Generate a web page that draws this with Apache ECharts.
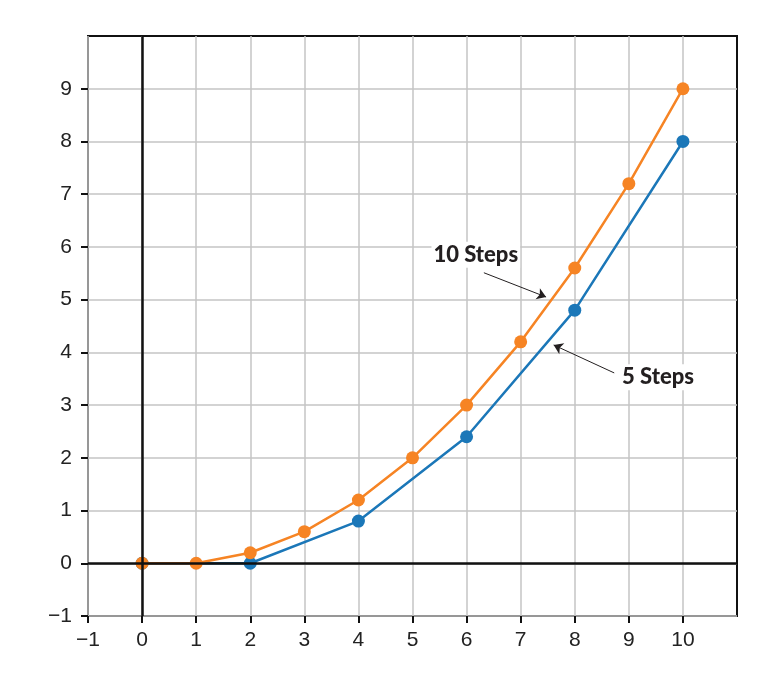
<!DOCTYPE html>
<html>
<head>
<meta charset="utf-8">
<script src="https://cdn.jsdelivr.net/npm/echarts@6/dist/echarts.min.js"></script>
<style>
  html, body { margin: 0; padding: 0; background: #fff; }
  #main { width: 781px; height: 673px; }
</style>
</head>
<body>
<div id="main"></div>
<script>
// data
const tenSteps = [[0, 0], [1, 0], [2, 0.2], [3, 0.6], [4, 1.2], [5, 2], [6, 3], [7, 4.2], [8, 5.6], [9, 7.2], [10, 9]];
const fiveSteps = [[0, 0], [2, 0], [4, 0.8], [6, 2.4], [8, 4.8], [10, 8]];
const xTicks = [-1, 0, 1, 2, 3, 4, 5, 6, 7, 8, 9, 10];
const yTicks = [-1, 0, 1, 2, 3, 4, 5, 6, 7, 8, 9];

// annotation positions in data units
const labelTen = [6.17, 5.85];
const labelFive = [9.54, 3.53];
const arrowTen = [[6.32, 5.51], [7.47, 5.05]];
const arrowFive = [[8.73, 3.61], [7.61, 4.14]];

const orange = '#F68424';
const blue = '#1B77B8';
const ink = '#231f20';

let myChart = echarts.init(document.getElementById('main'));

const fmt = (v) => (v < 0 ? '\u2212' + Math.abs(v) : String(v));

const labelStyle = {
  show: true,
  color: ink,
  fontFamily: 'Lato',
  fontWeight: 900,
  fontSize: 22,
  backgroundColor: '#fff',
  padding: [2, 2]
};

// one dummy series per annotation arrow, so each can have its own bend
function arrow(pts, bend) {
  return {
    type: 'line', data: [], z: 5,
    markLine: {
      silent: true, symbol: ['none', 'arrow'], symbolSize: 9,
      label: { show: false },
      lineStyle: { color: ink, width: 1, type: 'solid', curveness: bend },
      data: [[{ coord: pts[0] }, { coord: pts[1] }]]
    }
  };
}

let options = {
  animation: false,
  grid: {
    left: 88, right: 44, top: 36, bottom: 57,
    show: true, borderColor: '#111', borderWidth: 2
  },
  xAxis: {
    type: 'value', min: -1, max: 11, interval: 1,
    axisLine: { show: false, onZero: false },
    axisTick: { show: true, customValues: xTicks, length: 7, lineStyle: { color: '#111', width: 2 } },
    axisLabel: { customValues: xTicks, formatter: fmt, color: '#222', fontSize: 21, fontFamily: 'Liberation Sans', margin: 14 },
    splitLine: { lineStyle: { color: '#c4c4c4', width: 1.5 } }
  },
  yAxis: {
    type: 'value', min: -1, max: 10, interval: 1,
    axisLine: { show: false, onZero: false },
    axisTick: { show: true, customValues: yTicks, length: 7, lineStyle: { color: '#111', width: 2 } },
    axisLabel: { customValues: yTicks, formatter: fmt, color: '#222', fontSize: 21, fontFamily: 'Liberation Sans', margin: 16 },
    splitLine: { lineStyle: { color: '#c4c4c4', width: 1.5 } }
  },
  series: [
    {
      // zero axes
      type: 'line', data: [], z: 1,
      markLine: {
        silent: true, symbol: 'none', label: { show: false },
        lineStyle: { color: '#111', width: 2.5, type: 'solid' },
        data: [{ xAxis: 0 }, { yAxis: 0 }]
      }
    },
    arrow(arrowTen, 0.25),
    arrow(arrowFive, -0.4),
    {
      type: 'line', data: [], z: 6,
      markPoint: {
        silent: true, symbol: 'circle', symbolSize: 0,
        data: [
          { coord: labelTen, label: Object.assign({ formatter: '10 Steps' }, labelStyle) },
          { coord: labelFive, label: Object.assign({ formatter: '5 Steps' }, labelStyle) }
        ]
      }
    },
    {
      name: '5 Steps', type: 'line', data: fiveSteps, z: 3,
      symbol: 'circle', symbolSize: 13,
      itemStyle: { color: blue },
      lineStyle: { color: blue, width: 2.5 }
    },
    {
      name: '10 Steps', type: 'line', data: tenSteps, z: 4,
      symbol: 'circle', symbolSize: 13,
      itemStyle: { color: orange },
      lineStyle: { color: orange, width: 2.5 }
    }
  ]
};

myChart.setOption(options);
</script>
</body>
</html>
